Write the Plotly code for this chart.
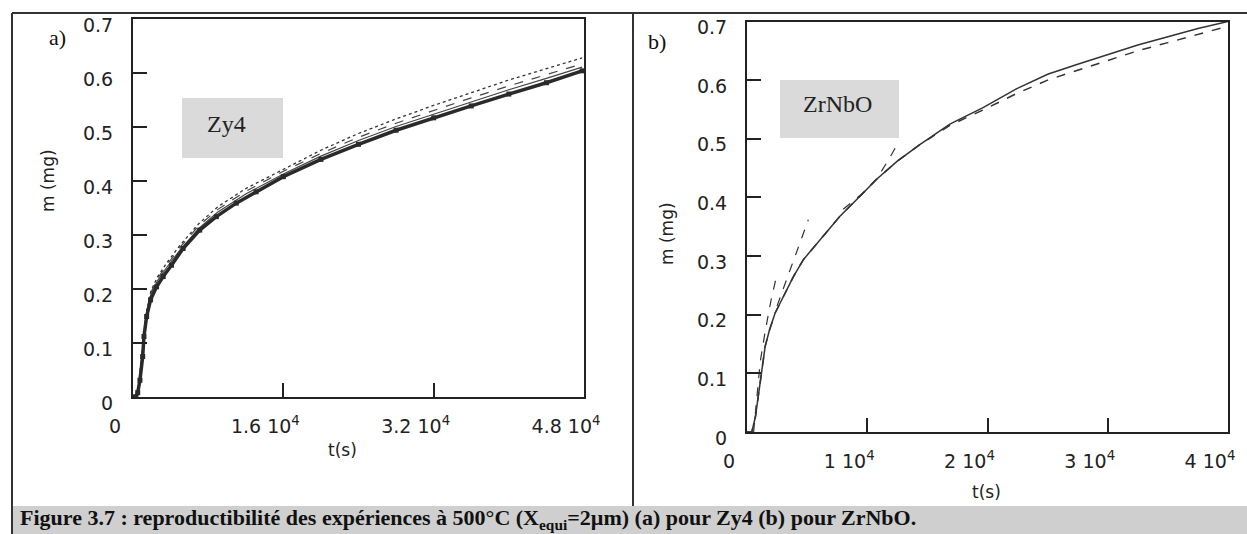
import plotly.graph_objects as go

# ---------------- data ----------------
# Panel a) Zy4
a_sq_t = [0, 300, 500, 740, 1030, 1165, 1450, 1870, 2510, 3210, 4100, 5330, 7100, 8870,
          10990, 13100, 16000, 20000, 24000, 28000, 32000, 36000, 40000, 44000, 47800]
a_sq_m = [0, 0, 0.008, 0.031, 0.075, 0.112, 0.149, 0.18, 0.204, 0.223, 0.244, 0.275, 0.309, 0.334,
          0.359, 0.380, 0.408, 0.44, 0.468, 0.494, 0.517, 0.539, 0.561, 0.582, 0.604]

a_ln_t = [0, 400, 700, 1000, 1400, 1900, 2600, 3500, 5000, 7000, 9000, 12000, 16000,
          20000, 24000, 28000, 32000, 36000, 40000, 44000, 47800]
a_solid_m = [0, 0, 0.035, 0.085, 0.15, 0.19, 0.215, 0.238, 0.272, 0.312, 0.342, 0.376, 0.413,
             0.446, 0.475, 0.501, 0.524, 0.547, 0.569, 0.59, 0.611]
a_dash_m = [0, 0, 0.037, 0.088, 0.153, 0.193, 0.219, 0.242, 0.277, 0.317, 0.347, 0.381, 0.418,
            0.451, 0.481, 0.507, 0.531, 0.554, 0.576, 0.597, 0.617]
a_dot_m = [0, 0, 0.04, 0.09, 0.155, 0.196, 0.222, 0.246, 0.281, 0.321, 0.352, 0.386, 0.422,
           0.457, 0.488, 0.515, 0.54, 0.564, 0.587, 0.608, 0.628]

# Panel b) ZrNbO
b_t = [0, 400, 700, 955, 1235, 1510, 1870, 2340, 3030, 3860, 4690, 6075, 7730, 9395, 10780,
       12500, 14370, 16870, 19630, 22400, 25000, 27500, 30000, 32500, 35000, 37500, 40000]
b_up_m = [0, 0, 0.026, 0.066, 0.112, 0.146, 0.174, 0.203, 0.231, 0.265, 0.294, 0.328, 0.368, 0.402, 0.431,
          0.462, 0.49, 0.525, 0.553, 0.585, 0.610, 0.627, 0.644, 0.660, 0.674, 0.688, 0.700]
b_lo_m = [0, 0, 0.026, 0.066, 0.112, 0.146, 0.174, 0.203, 0.231, 0.265, 0.294, 0.328, 0.368, 0.402, 0.431,
          0.462, 0.49, 0.523, 0.549, 0.577, 0.600, 0.617, 0.634, 0.650, 0.664, 0.678, 0.692]

fit1_t = [550, 800, 1100, 1500, 2000, 2480]
fit1_m = [0, 0.06, 0.12, 0.17, 0.225, 0.268]
fit2_t = [2500, 3300, 4200, 5100]
fit2_m = [0.215, 0.26, 0.31, 0.362]
fit3_t = [8000, 9500, 10800, 11800, 12640]
fit3_m = [0.38, 0.405, 0.432, 0.465, 0.496]

y_ticks = [0, 0.1, 0.2, 0.3, 0.4, 0.5, 0.6, 0.7]
y_ticktext = ["0", "0.1", "0.2", "0.3", "0.4", "0.5", "0.6", "0.7"]
xa_ticks = [0, 16000, 32000, 48000]
xa_ticktext = ["0", "1.6 10<sup>4</sup>", "3.2 10<sup>4</sup>", "4.8 10<sup>4</sup>"]
xb_ticks = [0, 10000, 20000, 30000, 40000]
xb_ticktext = ["0", "1 10<sup>4</sup>", "2 10<sup>4</sup>", "3 10<sup>4</sup>", "4 10<sup>4</sup>"]

caption = ("Figure 3.7 : reproductibilité des expériences à 500°C (X<sub>equi</sub>=2µm) "
           "(a) pour Zy4 (b) pour ZrNbO.")

# ---------------- layout helpers ----------------
W, H = 1247, 534
def px(x):
    return x / W
def py(y):
    return 1 - y / H

fig = go.Figure()

# Panel a traces
fig.add_trace(go.Scatter(x=a_ln_t, y=a_dot_m, mode="lines", xaxis="x", yaxis="y",
                         line=dict(color="#333", width=1.3, dash="dot")))
fig.add_trace(go.Scatter(x=a_ln_t, y=a_dash_m, mode="lines", xaxis="x", yaxis="y",
                         line=dict(color="#444", width=1.2, dash="dash")))
fig.add_trace(go.Scatter(x=a_ln_t, y=a_solid_m, mode="lines", xaxis="x", yaxis="y",
                         line=dict(color="#444", width=1.2)))
fig.add_trace(go.Scatter(x=a_sq_t, y=a_sq_m, mode="lines+markers", xaxis="x", yaxis="y",
                         line=dict(color="#2a2a2a", width=3.5),
                         marker=dict(symbol="square", size=5, color="#2a2a2a")))

# Panel b traces
fig.add_trace(go.Scatter(x=b_t, y=b_lo_m, mode="lines", xaxis="x2", yaxis="y2",
                         line=dict(color="#333", width=1.5, dash="dash")))
fig.add_trace(go.Scatter(x=b_t, y=b_up_m, mode="lines", xaxis="x2", yaxis="y2",
                         line=dict(color="#333", width=1.5)))
for ft, fm in ((fit1_t, fit1_m), (fit2_t, fit2_m), (fit3_t, fit3_m)):
    fig.add_trace(go.Scatter(x=ft, y=fm, mode="lines", xaxis="x2", yaxis="y2",
                             line=dict(color="#333", width=1.2, dash="dash")))

tickfont = dict(family="DejaVu Sans", size=19, color="#222")
axis_common = dict(showline=True, linecolor="#222", linewidth=2, mirror=True,
                   ticks="inside", ticklen=14, tickwidth=2, tickcolor="#222",
                   showgrid=False, zeroline=False, tickfont=tickfont, fixedrange=True,
                   automargin=False)

fig.update_layout(
    width=W, height=H, margin=dict(l=0, r=0, t=0, b=0, pad=0), autosize=False,
    paper_bgcolor="white", plot_bgcolor="white", showlegend=False,
    xaxis=dict(domain=[px(133), px(584)], range=[0, 48000], anchor="y",
               tickvals=xa_ticks, ticktext=xa_ticktext, ticklabelshift=-18,
               ticklabelstandoff=11, **axis_common),
    yaxis=dict(domain=[py(397), py(19)], range=[0, 0.7], anchor="x",
               tickvals=y_ticks, ticktext=y_ticktext, ticklabelshift=6,
               ticklabelstandoff=14, **axis_common),
    xaxis2=dict(domain=[px(747), px(1228)], range=[0, 40000], anchor="y2",
                tickvals=xb_ticks, ticktext=xb_ticktext, ticklabelshift=-18,
                ticklabelstandoff=11, **axis_common),
    yaxis2=dict(domain=[py(432), py(21.5)], range=[0, 0.7], anchor="x2",
                tickvals=y_ticks, ticktext=y_ticktext, ticklabelshift=6,
                ticklabelstandoff=14, **axis_common),
)

shapes = [
    # outer frame
    dict(type="line", xref="paper", yref="paper", x0=px(12), x1=1, y0=py(13), y1=py(13),
         line=dict(color="#333", width=2)),
    dict(type="line", xref="paper", yref="paper", x0=px(12), x1=px(12), y0=py(13), y1=0,
         line=dict(color="#333", width=2)),
    dict(type="line", xref="paper", yref="paper", x0=px(633), x1=px(633), y0=py(13), y1=py(506),
         line=dict(color="#333", width=2)),
    # caption band
    dict(type="rect", xref="paper", yref="paper", x0=px(13), x1=1, y0=0, y1=py(506),
         fillcolor="#cfcfcf", line=dict(width=0), layer="below"),
    # label boxes
    dict(type="rect", xref="paper", yref="paper", x0=px(182), x1=px(283), y0=py(158), y1=py(98),
         fillcolor="#dadada", line=dict(width=0), layer="below"),
    dict(type="rect", xref="paper", yref="paper", x0=px(780), x1=px(899), y0=py(138), y1=py(80),
         fillcolor="#dadada", line=dict(width=0), layer="below"),
]
fig.update_layout(shapes=shapes)

serif = "Liberation Serif"
sans = "DejaVu Sans"
ann = [
    dict(x=px(57), y=py(38), text="a)", font=dict(family=serif, size=22, color="#111")),
    dict(x=px(657), y=py(42), text="b)", font=dict(family=serif, size=22, color="#111")),
    dict(x=px(226), y=py(124), text="Zy4", font=dict(family=serif, size=24, color="#222")),
    dict(x=px(837), y=py(104), text="ZrNbO", font=dict(family=serif, size=24, color="#222")),
    dict(x=px(342), y=py(450), text="t(s)", font=dict(family=sans, size=17, color="#222")),
    dict(x=px(987), y=py(492), text="t(s)", font=dict(family=sans, size=17, color="#222")),
    dict(x=px(48), y=py(181), text="m (mg)", textangle=-90, font=dict(family=sans, size=17, color="#222")),
    dict(x=px(667), y=py(233), text="m (mg)", textangle=-90, font=dict(family=sans, size=17, color="#222")),
    dict(x=px(18), y=py(519), text="<b>" + caption + "</b>", xanchor="left",
         font=dict(family=serif, size=22, color="#111")),
]
for a in ann:
    a.setdefault("xanchor", "center")
    a.update(xref="paper", yref="paper", showarrow=False, yanchor="middle")
fig.update_layout(annotations=ann)

fig.write_html("out.html", config={"displayModeBar": False},
               post_script="document.body.style.margin='0';document.body.style.overflow='hidden';")
